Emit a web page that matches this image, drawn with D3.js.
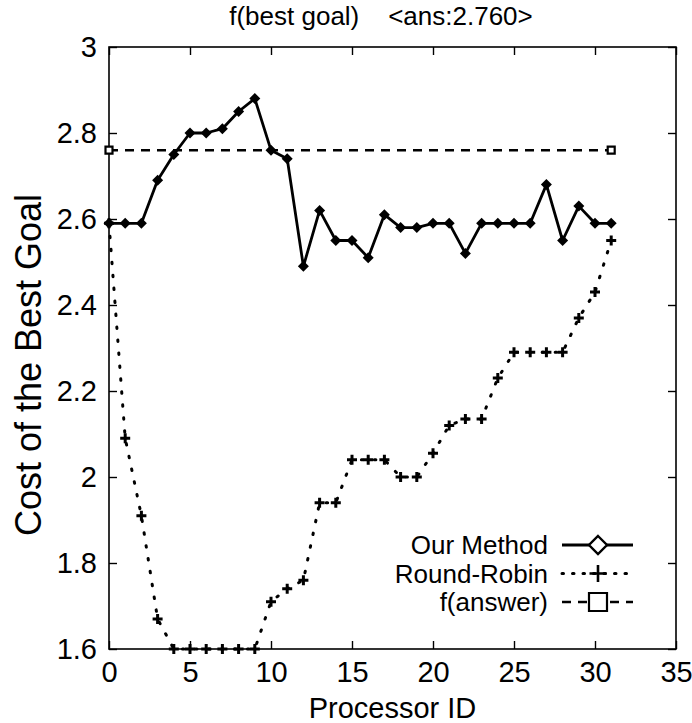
<!DOCTYPE html>
<html>
<head>
<meta charset="utf-8">
<script src="https://cdn.jsdelivr.net/npm/d3@7/dist/d3.min.js"></script>
<style>
  body { margin: 0; background: #fff; }
  svg text { font-family: "Liberation Sans", Arial, Helvetica, sans-serif; fill: #000; }
</style>
</head>
<body>
<svg id="chart" width="692" height="723"></svg>
<script>
// Processor IDs on the x axis
const processorIds = [0,1,2,3,4,5,6,7,8,9,10,11,12,13,14,15,16,17,18,19,20,21,22,23,24,25,26,27,28,29,30,31];

// Cost of the best goal found on each processor
const ourMethod = [2.59,2.59,2.59,2.69,2.75,2.80,2.80,2.81,2.85,2.88,2.76,2.74,2.49,2.62,2.55,2.55,
                   2.51,2.61,2.58,2.58,2.59,2.59,2.52,2.59,2.59,2.59,2.59,2.68,2.55,2.63,2.59,2.59];
const roundRobin = [2.59,2.09,1.91,1.67,1.60,1.60,1.60,1.60,1.60,1.60,1.71,1.74,1.76,1.94,1.94,2.04,
                    2.04,2.04,2.00,2.00,2.055,2.12,2.135,2.135,2.23,2.29,2.29,2.29,2.29,2.37,2.43,2.55];

// Reference answer, drawn as a flat line between its two end points
const answerIds = [0, 31];
const answerValues = [2.76, 2.76];

const seriesNames = ["Our Method", "Round-Robin", "f(answer)"];
const xTicks = [0, 5, 10, 15, 20, 25, 30, 35];
const yTicks = [1.6, 1.8, 2.0, 2.2, 2.4, 2.6, 2.8, 3.0];
const titleText = "f(best goal)    <ans:2.760>";
const xTitle = "Processor ID";
const yTitle = "Cost of the Best Goal";

const W = 692, H = 723;
const m = { left: 109, right: 16, top: 47, bottom: 74 };
const svg = d3.select("#chart");

const x = d3.scaleLinear().domain([0, 35]).range([m.left, W - m.right]);
const y = d3.scaleLinear().domain([1.6, 3.0]).range([H - m.bottom, m.top]);

const fmt = d => String(+d.toFixed(1));

// Inward ticks on all four sides
const TL = 8;
svg.append("g").attr("transform", `translate(0,${y.range()[0]})`)
  .call(d3.axisBottom(x).tickValues(xTicks).tickSize(-TL).tickPadding(10).tickFormat(fmt))
  .call(g => { g.select(".domain").remove(); g.selectAll("line").attr("stroke-width", 1.4); g.selectAll("text").attr("font-size", 29).attr("dy", "0.78em"); });
svg.append("g").attr("transform", `translate(0,${y.range()[1]})`)
  .call(d3.axisTop(x).tickValues(xTicks).tickSize(-TL).tickFormat(""))
  .call(g => { g.select(".domain").remove(); g.selectAll("line").attr("stroke-width", 1.4); });
svg.append("g").attr("transform", `translate(${x.range()[0]},0)`)
  .call(d3.axisLeft(y).tickValues(yTicks).tickSize(-TL).tickPadding(12).tickFormat(fmt))
  .call(g => { g.select(".domain").remove(); g.selectAll("line").attr("stroke-width", 1.4); g.selectAll("text").attr("font-size", 29); });
svg.append("g").attr("transform", `translate(${x.range()[1]},0)`)
  .call(d3.axisRight(y).tickValues(yTicks).tickSize(-TL).tickFormat(""))
  .call(g => { g.select(".domain").remove(); g.selectAll("line").attr("stroke-width", 1.4); });
svg.selectAll(".tick text").attr("font-family", "\"Liberation Sans\", Arial, sans-serif").attr("fill", "#000");

// Plot frame
svg.append("rect")
  .attr("x", x.range()[0]).attr("y", y.range()[1])
  .attr("width", x.range()[1] - x.range()[0]).attr("height", y.range()[0] - y.range()[1])
  .attr("fill", "none").attr("stroke", "#000").attr("stroke-width", 1.6);

// Marker shapes
const diamondPath = (r) => `M0,${-r}L${r},0L0,${r}L${-r},0Z`;
const plusPath = (r) => `M${-r},0H${r}M0,${-r}V${r}`;
const squarePath = (r) => `M${-r},${-r}H${r}V${r}H${-r}Z`;

const line = d3.line().x(d => x(d[0])).y(d => y(d[1]));

// Round-Robin: dotted line with plus markers
const rrData = processorIds.map((p, i) => [p, roundRobin[i]]);
svg.append("path").datum(rrData).attr("d", line)
  .attr("fill", "none").attr("stroke", "#000").attr("stroke-width", 3)
  .attr("stroke-linecap", "round").attr("stroke-dasharray", "1.5 11.5");
svg.append("g").selectAll("path").data(rrData).join("path")
  .attr("transform", d => `translate(${x(d[0])},${y(d[1])})`)
  .attr("d", plusPath(5)).attr("stroke", "#000").attr("stroke-width", 3).attr("fill", "none");

// f(answer): dashed line with open squares
const ansData = answerIds.map((p, i) => [p, answerValues[i]]);
svg.append("path").datum(ansData).attr("d", line)
  .attr("fill", "none").attr("stroke", "#000").attr("stroke-width", 2.4)
  .attr("stroke-dasharray", "9 7");
svg.append("g").selectAll("path").data(ansData).join("path")
  .attr("transform", d => `translate(${x(d[0])},${y(d[1])})`)
  .attr("d", squarePath(3.5)).attr("stroke", "#000").attr("stroke-width", 2.2).attr("fill", "#fff");

// Our Method: solid line with filled diamonds
const omData = processorIds.map((p, i) => [p, ourMethod[i]]);
svg.append("path").datum(omData).attr("d", line)
  .attr("fill", "none").attr("stroke", "#000").attr("stroke-width", 2.8).attr("stroke-linejoin", "round");
svg.append("g").selectAll("path").data(omData).join("path")
  .attr("transform", d => `translate(${x(d[0])},${y(d[1])})`)
  .attr("d", diamondPath(5.5)).attr("fill", "#000");

// Legend
const legendRows = [545, 573.5, 602];
const legTextX = 548, legX0 = 562, legX1 = 633, legMid = 598;
const leg = svg.append("g");
seriesNames.forEach((name, i) => {
  const yy = legendRows[i];
  leg.append("text").attr("x", legTextX).attr("y", yy).attr("dy", "0.36em")
    .attr("text-anchor", "end").attr("font-size", 26).text(name);
  const seg = leg.append("line").attr("x1", legX0).attr("x2", legX1).attr("y1", yy).attr("y2", yy)
    .attr("stroke", "#000").attr("fill", "none");
  if (i === 0) {
    seg.attr("stroke-width", 2.8);
    leg.append("path").attr("transform", `translate(${legMid},${yy})`).attr("d", diamondPath(9))
      .attr("fill", "#fff").attr("stroke", "#000").attr("stroke-width", 2.4);
  } else if (i === 1) {
    seg.attr("stroke-width", 3).attr("stroke-linecap", "round").attr("stroke-dasharray", "1.5 9");
    leg.append("path").attr("transform", `translate(${legMid},${yy})`).attr("d", plusPath(8.5))
      .attr("stroke", "#000").attr("stroke-width", 2.6).attr("fill", "none");
  } else {
    seg.attr("stroke-width", 2.4).attr("stroke-dasharray", "9 7");
    leg.append("path").attr("transform", `translate(${legMid},${yy})`).attr("d", squarePath(9))
      .attr("fill", "#fff").attr("stroke", "#000").attr("stroke-width", 2.2);
  }
});

// Titles
svg.append("text").attr("x", 381).attr("y", 25).attr("text-anchor", "middle")
  .attr("font-size", 26).attr("xml:space", "preserve").style("white-space", "pre").text(titleText);
svg.append("text").attr("x", (x.range()[0] + x.range()[1]) / 2).attr("y", 718)
  .attr("text-anchor", "middle").attr("font-size", 29).text(xTitle);
svg.append("text").attr("transform", `translate(41,365) rotate(-90)`)
  .attr("text-anchor", "middle").attr("font-size", 36).text(yTitle);
</script>
</body>
</html>
